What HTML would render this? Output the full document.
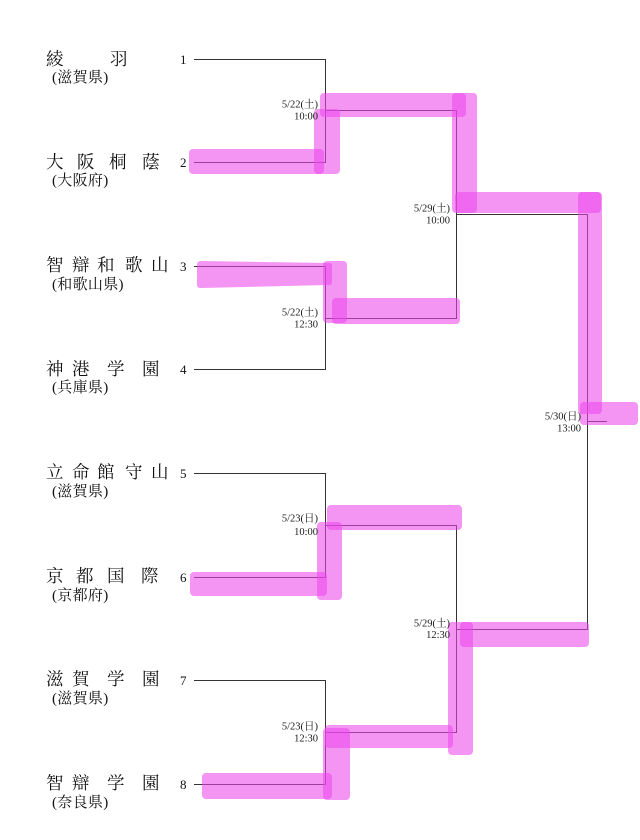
<!DOCTYPE html>
<html>
<head>
<meta charset="utf-8">
<style>
html,body{margin:0;padding:0;background:#fff;}
svg{display:block;}
.nm{font-family:"Liberation Serif","Noto Serif CJK SC",serif;font-size:17.5px;fill:#111;}
.sb{font-family:"Liberation Serif","Noto Serif CJK SC",serif;font-size:15px;fill:#111;letter-spacing:0.3px;}
.no{font-family:"Liberation Serif",serif;font-size:13px;fill:#111;}
.lb{font-family:"Liberation Serif","Noto Serif CJK SC",serif;font-size:10.5px;fill:#1a1a1a;}
</style>
</head>
<body>
<svg width="640" height="840" viewBox="0 0 640 840" xmlns="http://www.w3.org/2000/svg">
<g stroke="#333" stroke-width="1" fill="none">
  <polyline points="194,59.5 325.5,59.5 325.5,162.5 194,162.5"/>
  <polyline points="194,266.5 325.5,266.5 325.5,369.5 194,369.5"/>
  <polyline points="194,473.5 325.5,473.5 325.5,577.5 194,577.5"/>
  <polyline points="194,680.5 325.5,680.5 325.5,784.5 194,784.5"/>
  <polyline points="325.5,110.5 456.5,110.5 456.5,318.5 325.5,318.5"/>
  <polyline points="325.5,525.5 456.5,525.5 456.5,732.5 325.5,732.5"/>
  <polyline points="456.5,214.5 587.5,214.5 587.5,629.5 456.5,629.5"/>
  <line x1="587.5" y1="421.5" x2="607" y2="421.5"/>
</g>

<g fill="#ec48ec" fill-opacity="0.58">
  <rect x="189" y="149" width="135" height="25" rx="4"/>
  <rect x="314" y="109" width="26" height="65" rx="4"/>
  <rect x="320" y="93" width="146" height="24" rx="4"/>
  <rect x="452" y="93" width="25" height="120" rx="4"/>
  <rect x="455" y="192" width="146" height="21" rx="4"/>
  <rect x="578" y="192" width="24" height="222" rx="4"/>
  <rect x="580" y="402" width="58" height="23" rx="4"/>
  <path d="M197,265 Q197,261 201,261 L329,263 Q332,263 332,266 L332,282 Q332,285 329,285 L201,288 Q197,288 197,285 Z"/>
  <rect x="323" y="261" width="24" height="62" rx="4"/>
  <rect x="332" y="298" width="128" height="26" rx="4"/>
  <rect x="190" y="572" width="137" height="24" rx="4"/>
  <rect x="317" y="522" width="25" height="78" rx="4"/>
  <rect x="327" y="505" width="135" height="25" rx="4"/>
  <rect x="202" y="773" width="130" height="26" rx="4"/>
  <rect x="323" y="728" width="27" height="72" rx="4"/>
  <rect x="325" y="725" width="128" height="23" rx="4"/>
  <rect x="448" y="622" width="25" height="133" rx="4"/>
  <rect x="460" y="622" width="129" height="25" rx="4"/>
</g>

<g class="no">
  <text x="180" y="64">1</text>
  <text x="180" y="167">2</text>
  <text x="180" y="271">3</text>
  <text x="180" y="374">4</text>
  <text x="180" y="478">5</text>
  <text x="180" y="582">6</text>
  <text x="180" y="685">7</text>
  <text x="180" y="789">8</text>
</g>

<g class="nm">
  <text x="46" y="65">綾</text><text x="110" y="65">羽</text>
  <text x="46" y="168">大</text><text x="77" y="168">阪</text><text x="109" y="168">桐</text><text x="142" y="168">蔭</text>
  <text x="46" y="271">智</text><text x="72" y="271">辯</text><text x="97" y="271">和</text><text x="125" y="271">歌</text><text x="151" y="271">山</text>
  <text x="46" y="375">神</text><text x="72" y="375">港</text><text x="107" y="375">学</text><text x="142" y="375">園</text>
  <text x="46" y="478">立</text><text x="72" y="478">命</text><text x="97" y="478">館</text><text x="125" y="478">守</text><text x="151" y="478">山</text>
  <text x="46" y="582">京</text><text x="76" y="582">都</text><text x="107" y="582">国</text><text x="141" y="582">際</text>
  <text x="46" y="685">滋</text><text x="72" y="685">賀</text><text x="107" y="685">学</text><text x="142" y="685">園</text>
  <text x="46" y="789">智</text><text x="72" y="789">辯</text><text x="107" y="789">学</text><text x="142" y="789">園</text>
</g>
<g class="sb">
  <text x="52" y="82">(滋賀県)</text>
  <text x="52" y="185">(大阪府)</text>
  <text x="52" y="289">(和歌山県)</text>
  <text x="52" y="392">(兵庫県)</text>
  <text x="52" y="496">(滋賀県)</text>
  <text x="52" y="600">(京都府)</text>
  <text x="52" y="703">(滋賀県)</text>
  <text x="52" y="807">(奈良県)</text>
</g>

<g class="lb" text-anchor="end">
  <text x="318" y="107.5">5/22(土)</text><text x="318" y="119.5">10:00</text>
  <text x="318" y="315.5">5/22(土)</text><text x="318" y="327.5">12:30</text>
  <text x="318" y="521.5">5/23(日)</text><text x="318" y="535">10:00</text>
  <text x="318" y="729.5">5/23(日)</text><text x="318" y="741.5">12:30</text>
  <text x="450" y="211.5">5/29(土)</text><text x="450" y="223.5">10:00</text>
  <text x="450" y="626.5">5/29(土)</text><text x="450" y="638">12:30</text>
  <text x="581" y="419.5">5/30(日)</text><text x="581" y="431.5">13:00</text>
</g>
</svg>
</body>
</html>
